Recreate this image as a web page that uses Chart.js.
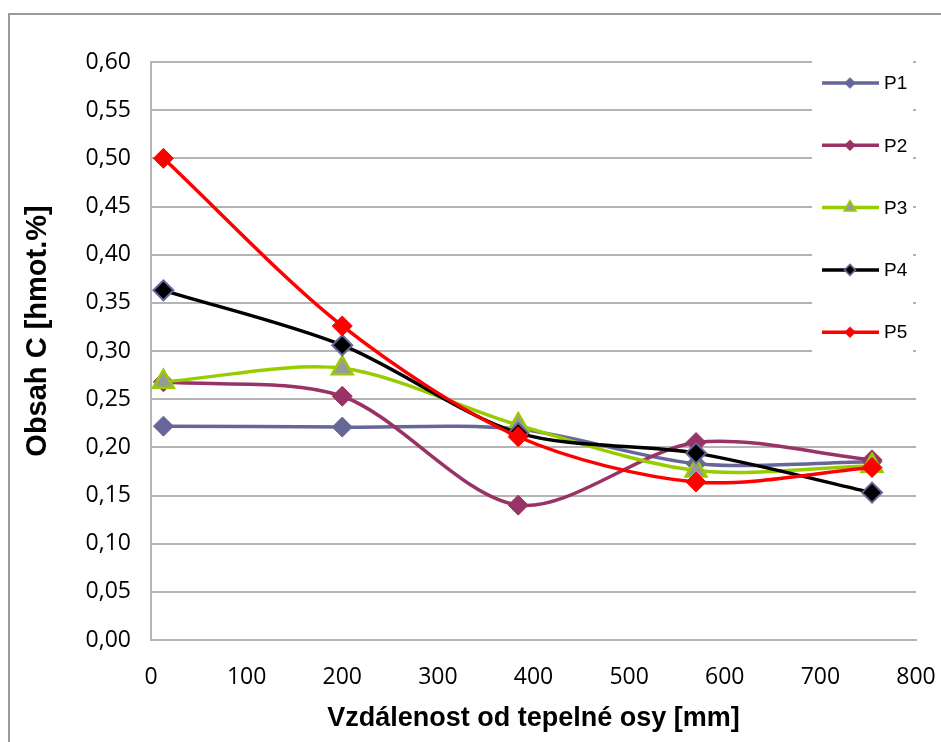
<!DOCTYPE html>
<html lang="cs">
<head>
<meta charset="UTF-8">
<script src="https://cdn.jsdelivr.net/npm/chart.js"></script>
<title>Obsah C</title>
<style>
  html, body { margin: 0; padding: 0; background: #fff; }
  #box { width: 941px; height: 742px; }
</style>
</head>
<body>
<div id="box">
  <canvas id="graf" width="941" height="742"></canvas>
</div>

<script>
// vzdalenost od tepelne osy [mm]
const vzdalenost = [13, 200, 384, 570, 754];

// obsah C [hmot.%] pro jednotlive profily
const p1 = [0.222, 0.221, 0.219, 0.183, 0.185];
const p2 = [0.268, 0.253, 0.140, 0.205, 0.187];
const p3 = [0.268, 0.282, 0.223, 0.176, 0.181];
const p4 = [0.363, 0.306, 0.215, 0.194, 0.153];
const p5 = [0.500, 0.326, 0.211, 0.164, 0.179];

const nazvy = ['P1', 'P2', 'P3', 'P4', 'P5'];
const hodnoty = [p1, p2, p3, p4, p5];

const osaX = 'Vzdálenost od tepelné osy [mm]';
const osaY = 'Obsah C [hmot.%]';

// vzhled rad: barva cary, tvar znacky, vyplne a okraj znacky
const styly = [
  { cara: '#666699', tvar: 'rectRot', vypln: '#666699', okraj: '#666699', r: 10, ok: 1 },
  { cara: '#993366', tvar: 'rectRot', vypln: '#993366', okraj: '#993366', r: 10, ok: 1 },
  { cara: '#99cc00', tvar: 'triangle', vypln: '#999999', okraj: '#99cc00', r: 12, ok: 2.5 },
  { cara: '#000000', tvar: 'rectRot', vypln: '#000000', okraj: '#666699', r: 10, ok: 2 },
  { cara: '#ff0000', tvar: 'rectRot', vypln: '#ff0000', okraj: '#ff0000', r: 10, ok: 1 }
];

function znacka(c, tvar, x, y, r) {
  c.beginPath();
  if (tvar === 'triangle') {
    for (let k = 0; k < 3; k++) {
      const a = k * 2 * Math.PI / 3;
      const px = x + Math.sin(a) * r, py = y - Math.cos(a) * r;
      if (k === 0) c.moveTo(px, py); else c.lineTo(px, py);
    }
  } else {
    c.moveTo(x, y - r);
    c.lineTo(x + r, y);
    c.lineTo(x, y + r);
    c.lineTo(x - r, y);
  }
  c.closePath();
}

const datasets = nazvy.map(function (n, i) {
  const s = styly[i];
  return {
    label: n,
    data: hodnoty[i].map(function (v, j) { return { x: vzdalenost[j], y: v }; }),
    borderColor: s.cara,
    backgroundColor: s.vypln,
    borderWidth: 3.5,
    tension: 0.3,
    pointStyle: s.tvar,
    pointRadius: s.r,
    pointHoverRadius: s.r,
    pointBackgroundColor: s.vypln,
    pointBorderColor: s.okraj,
    pointBorderWidth: s.ok,
    order: nazvy.length - i,
    fill: false
  };
});

// ramecek a bile pozadi
const ramecek = {
  id: 'ramecek',
  beforeDraw(chart) {
    const c = chart.ctx;
    c.save();
    c.fillStyle = '#ffffff';
    c.fillRect(0, 0, chart.width, chart.height);
    c.strokeStyle = '#9a9a9a';
    c.lineWidth = 2;
    c.beginPath();
    c.moveTo(9, chart.height);
    c.lineTo(9, 14);
    c.lineTo(chart.width, 14);
    c.stroke();
    c.restore();
  },
  afterDraw(chart) {
    // popis svisle osy
    const a = chart.chartArea;
    const c = chart.ctx;
    c.save();
    c.translate(38, (a.top + a.bottom) / 2 - 20);
    c.rotate(-Math.PI / 2);
    c.font = 'bold 29px "Liberation Sans", Arial, sans-serif';
    c.fillStyle = '#000';
    c.textAlign = 'center';
    c.textBaseline = 'middle';
    c.fillText(osaY, 0, 0);
    c.restore();
  }
};

// legenda uvnitr grafu vpravo nahore
const legenda = {
  id: 'legenda',
  beforeDatasetsDraw(chart) {
    const a = chart.chartArea;
    const c = chart.ctx;
    const x0 = a.right - 104;
    c.save();
    c.fillStyle = '#ffffff';
    c.fillRect(x0, a.top - 14, 101, 327);
    c.font = '19px "Liberation Sans", Arial, sans-serif';
    c.textBaseline = 'middle';
    c.textAlign = 'left';
    chart.data.datasets.forEach(function (ds, i) {
      const s = styly[i];
      const y = a.top + 21 + i * 62.3;
      c.strokeStyle = s.cara;
      c.lineWidth = 3.5;
      c.beginPath();
      c.moveTo(x0 + 10, y);
      c.lineTo(x0 + 67, y);
      c.stroke();
      znacka(c, s.tvar, x0 + 38, y, s.tvar === 'triangle' ? 7 : 5.5);
      c.fillStyle = s.vypln;
      c.fill();
      c.strokeStyle = s.okraj;
      c.lineWidth = s.tvar === 'rectRot' && s.okraj === s.vypln ? 0.5 : 1.5;
      c.stroke();
      c.fillStyle = '#000';
      c.fillText(ds.label, x0 + 72, y + 1);
    });
    c.restore();
  }
};

new Chart(document.getElementById('graf'), {
  type: 'line',
  data: { datasets: datasets },
  plugins: [ramecek, legenda],
  options: {
    responsive: false,
    animation: false,
    devicePixelRatio: 1,
    layout: { padding: { top: 62, right: 25, left: 0, bottom: 0 } },
    plugins: {
      legend: { display: false },
      tooltip: { enabled: false }
    },
    scales: {
      x: {
        type: 'linear',
        min: 0,
        max: 800,
        ticks: {
          stepSize: 100,
          padding: 24,
          color: '#000',
          font: { family: '"Open Sans", sans-serif', size: 23 }
        },
        grid: { display: false, drawTicks: false },
        border: { display: true, color: '#b4b4b4', width: 2 },
        title: {
          display: true,
          text: osaX,
          color: '#000',
          font: { family: '"Liberation Sans", Arial, sans-serif', size: 27, weight: 'bold' },
          padding: { top: 0, bottom: 7 }
        },
        afterFit(scale) {
          scale.height = 102;
          scale.paddingLeft = 0;
          scale.paddingRight = 0;
        }
      },
      y: {
        min: 0,
        max: 0.6,
        ticks: {
          stepSize: 0.05,
          padding: 20,
          color: '#000',
          font: { family: '"Open Sans", sans-serif', size: 23 },
          callback: function (v) { return v.toFixed(2).replace('.', ','); }
        },
        grid: { color: '#b4b4b4', lineWidth: 2, drawTicks: false },
        border: { display: true, color: '#b4b4b4', width: 2 },
        afterFit(scale) {
          scale.width = 151;
          scale.paddingTop = 0;
          scale.paddingBottom = 0;
        }
      }
    }
  }
});
</script>
</body>
</html>
